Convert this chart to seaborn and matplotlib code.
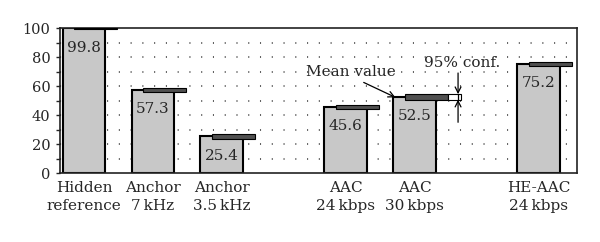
import matplotlib
matplotlib.use("Agg")
import matplotlib.pyplot as plt
import seaborn as sns
from matplotlib.ticker import MultipleLocator

# data
categories = ["Hidden\nreference", "Anchor\n7\u2009kHz", "Anchor\n3.5\u2009kHz",
              "AAC\n24\u2009kbps", "AAC\n30\u2009kbps", "HE-AAC\n24\u2009kbps"]
means = [99.8, 57.3, 25.4, 45.6, 52.5, 75.2]
ci_half = [0.2, 1.6, 1.6, 1.6, 1.9, 1.7]

# layout: group positions (gap between anchors and codecs)
xpos = [0, 1, 2, 3.8, 4.8, 6.6]
BAR_W = 0.62
CI_SHIFT = 0.17

sns.set_style("ticks")
plt.rcParams["font.family"] = ["DejaVu Serif"]
plt.rcParams["font.size"] = 10.5

fig = plt.figure(figsize=(6, 2.42), dpi=100)
ax = fig.add_axes([0.1, 0.285, 0.862, 0.599])

# dotted grid behind everything
for v in range(10, 100, 10):
    ax.axhline(v, color="#333333", lw=1.1, linestyle=(0, (0.7, 7)), zorder=0)

sns.barplot(x=xpos, y=means, native_scale=True, ax=ax, color="#c8c8c8",
            saturation=1, edgecolor="black", linewidth=1.5, width=BAR_W,
            errorbar=None, zorder=2)

# confidence interval bars (thickness = 95% conf.)
ci_x = [p - BAR_W / 2 + CI_SHIFT for p in xpos]
ci_bottom = [m - c for m, c in zip(means, ci_half)]
ci_height = [2 * c for c in ci_half]
ax.bar(ci_x, ci_height, bottom=ci_bottom, width=BAR_W, align="edge",
       color="#505050", edgecolor="black", linewidth=0.8, zorder=3)

# value labels inside bars
for p, m in zip(xpos, means):
    ax.annotate(f"{m:.1f}", (p, m), xytext=(0, -14), textcoords="offset points",
                ha="center", va="center", fontsize=11, zorder=4)

# explanatory annotations on the AAC 30 kbps bar
i = 4
ext_x = ci_x[i] + BAR_W
ci_top = ci_bottom[i] + ci_height[i]
ax.bar([ext_x], [ci_height[i]], bottom=[ci_bottom[i]], width=0.19, align="edge",
       color="white", edgecolor="black", linewidth=0.8, zorder=3)
arr_x = ext_x + 0.15
ax.plot([arr_x, arr_x], [ci_bottom[i], ci_top], color="black", lw=0.9, zorder=5)
ax.annotate("", xy=(arr_x, ci_top), xytext=(arr_x, 69),
            arrowprops=dict(arrowstyle="->", lw=0.9, color="black",
                            shrinkA=0, shrinkB=0), zorder=5)
ax.annotate("", xy=(arr_x, ci_bottom[i]), xytext=(arr_x, 35),
            arrowprops=dict(arrowstyle="->", lw=0.9, color="black",
                            shrinkA=0, shrinkB=0), zorder=5)
ax.text(5.49, 76, "95% conf.", ha="center", va="center", fontsize=11, zorder=5)
ax.text(3.87, 70, "Mean value", ha="center", va="center", fontsize=11, zorder=5)
ax.annotate("", xy=(xpos[i] - BAR_W / 2 + 0.03, means[i] - 0.3), xytext=(4.06, 62.5),
            arrowprops=dict(arrowstyle="->", lw=0.9, color="black",
                            shrinkA=0, shrinkB=0), zorder=5)

ax.set_xlim(-0.35, 7.16)
ax.set_ylim(0, 100)
ax.set_xticks(xpos)
ax.set_xticklabels(categories, linespacing=1.3, fontsize=11)
ax.tick_params(axis="x", length=0, pad=6)
ax.yaxis.set_major_locator(MultipleLocator(20))
ax.yaxis.set_minor_locator(MultipleLocator(10))
ax.tick_params(axis="y", which="both", length=3, width=1, pad=4)
for s in ax.spines.values():
    s.set_visible(True)
    s.set_linewidth(1.2)
    s.set_color("#222222")
ax.set_xlabel("")
ax.set_ylabel("")

fig.savefig("out.png", dpi=100)
